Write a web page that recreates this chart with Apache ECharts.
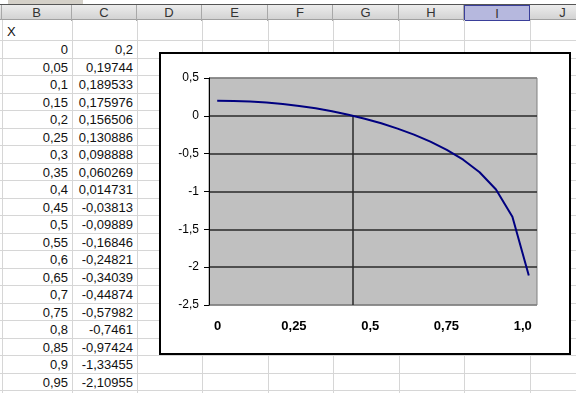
<!DOCTYPE html>
<html><head><meta charset="utf-8">
<script src="https://cdn.jsdelivr.net/npm/echarts@6/dist/echarts.min.js"></script>
<style>
body{margin:0;width:576px;height:393px;overflow:hidden;background:#fff;font-family:"Liberation Sans",Arial,sans-serif;position:relative}
#sheet div{position:absolute;box-sizing:border-box}
#chart{position:absolute;left:159px;top:52px;width:412px;height:303px;border:2px solid #000;box-sizing:border-box;background:#fff}
</style></head><body>
<div id="sheet"></div>
<div id="chart"></div>
<script>
// ---- data ----
const xValues = [0,0.05,0.1,0.15,0.2,0.25,0.3,0.35,0.4,0.45,0.5,0.55,0.6,0.65,0.7,0.75,0.8,0.85,0.9,0.95];
const yValues = [0.2,0.19744,0.189533,0.175976,0.156506,0.130886,0.098888,0.060269,0.014731,-0.03813,-0.09889,-0.16846,-0.24821,-0.34039,-0.44874,-0.57982,-0.7461,-0.97424,-1.33455,-2.10955];
const xHeader = 'X';
const columnLetters = ['B','C','D','E','F','G','H','I','J'];
const xTickValues = [0,0.25,0.5,0.75,1];
const xTickLabels = ['0','0,25','0,5','0,75','1,0'];
const yMin = -2.5, yMax = 0.5, yStep = 0.5;

const fmt = v => String(v).replace('.', ',');

// ---- spreadsheet backdrop ----
const sheet = document.getElementById('sheet');
function box(l,t,w,h,css,text){
  const d=document.createElement('div');
  d.style.cssText=`left:${l}px;top:${t}px;width:${w}px;height:${h}px;`+(css||'');
  if(text!==undefined) d.textContent=text;
  sheet.appendChild(d); return d;
}
const colEdges=[2,72,137,202,268,333,399,464,530,596];
const headTop=5, headBot=20, rowTop0=40, rowH=17.5;
// top strip
box(8,0,75,4,'background:#d4d0c8;');
box(0,3.5,576,1.5,'background:#555;');
// header
box(0,headTop,576,headBot-headTop,'background:linear-gradient(#ececec,#d3d3d3);border-bottom:1px solid #a0a0a0;');
for(let i=0;i<columnLetters.length;i++){
  const l=colEdges[i], w=colEdges[i+1]-colEdges[i];
  const sel = columnLetters[i]==='I';
  box(l,headTop,w,headBot-headTop+1,
    (sel?'background:#b6b8de;border:1px solid #3a3f9a;':'border-right:1px solid #a8a8a8;')+
    'font-size:13px;color:#333;text-align:center;line-height:15px;',columnLetters[i]);
}
box(0,headTop,2,headBot-headTop,'border-right:1px solid #a8a8a8;');
// grid lines
for(let i=0;i<=21;i++){
  const y = rowTop0 + i*rowH;
  box(0,y,576,1,'background:#d6d6d6;');
}
for(let i=0;i<colEdges.length;i++){
  box(colEdges[i],headBot,1,393-headBot,'background:#d6d6d6;');
}
// cells
box(colEdges[0]+5,headBot,60,rowTop0-headBot,'font-size:13px;color:#111;line-height:24px;',xHeader);
for(let r=0;r<xValues.length;r++){
  const t=rowTop0+r*rowH;
  box(colEdges[0],t,colEdges[1]-colEdges[0]-4,rowH,'font-size:13px;color:#111;text-align:right;line-height:20px;',fmt(xValues[r]));
  box(colEdges[1],t,colEdges[2]-colEdges[1]-4,rowH,'font-size:13px;color:#111;text-align:right;line-height:20px;',fmt(yValues[r]));
}

// ---- chart ----
// x where the curve crosses zero (linear between neighbouring points)
let zeroX = null;
for(let i=1;i<yValues.length;i++){
  if(yValues[i-1]>=0 && yValues[i]<0){
    zeroX = xValues[i-1] + (xValues[i]-xValues[i-1])*yValues[i-1]/(yValues[i-1]-yValues[i]);
    break;
  }
}
const half = (xValues[1]-xValues[0])/2;
const chart = echarts.init(document.getElementById('chart'), null, {renderer:'canvas'});
const FONT = '"Liberation Sans", Arial, sans-serif';
chart.setOption({
  animation:false,
  backgroundColor:'#fff',
  grid:{left:48,top:24,width:328,height:227,show:true,backgroundColor:'#c0c0c0',borderColor:'#808080',borderWidth:1},
  xAxis:[
    {type:'value',min:xValues[0]-half,max:xValues[xValues.length-1]+half,show:false},
    {type:'value',min:-0.0285,max:1.0469,position:'bottom',
     axisLine:{show:false},axisTick:{show:false},splitLine:{show:false},
     axisLabel:{customValues:xTickValues,margin:15,fontSize:13,fontWeight:'bold',color:'#000',fontFamily:FONT,
       formatter:v=>xTickLabels[xTickValues.indexOf(v)] ?? fmt(v)}}
  ],
  yAxis:{type:'value',min:yMin,max:yMax,interval:yStep,position:'left',
    axisLine:{show:true,onZero:false,lineStyle:{color:'#000',width:1}},
    axisTick:{show:true,length:5,lineStyle:{color:'#000'}},
    axisLabel:{margin:10,fontSize:12,color:'#000',fontFamily:FONT,formatter:v=>fmt(v)},
    splitLine:{show:true,lineStyle:{color:['#808080','#2a2a2a','#2a2a2a','#2a2a2a','#2a2a2a','#2a2a2a','#808080'],width:1.5}}
  },
  series:[{
    type:'line',xAxisIndex:0,
    data:xValues.map((x,i)=>[x,yValues[i]]),
    showSymbol:false,symbol:'none',
    lineStyle:{color:'#000080',width:2},
    z:5,
    markLine:{silent:true,symbol:'none',label:{show:false},
      lineStyle:{color:'#2a2a2a',width:1.5,type:'solid'},
      data:[[{coord:[zeroX,0]},{coord:[zeroX,yMin]}]]}
  }]
});
</script>
</body></html>
